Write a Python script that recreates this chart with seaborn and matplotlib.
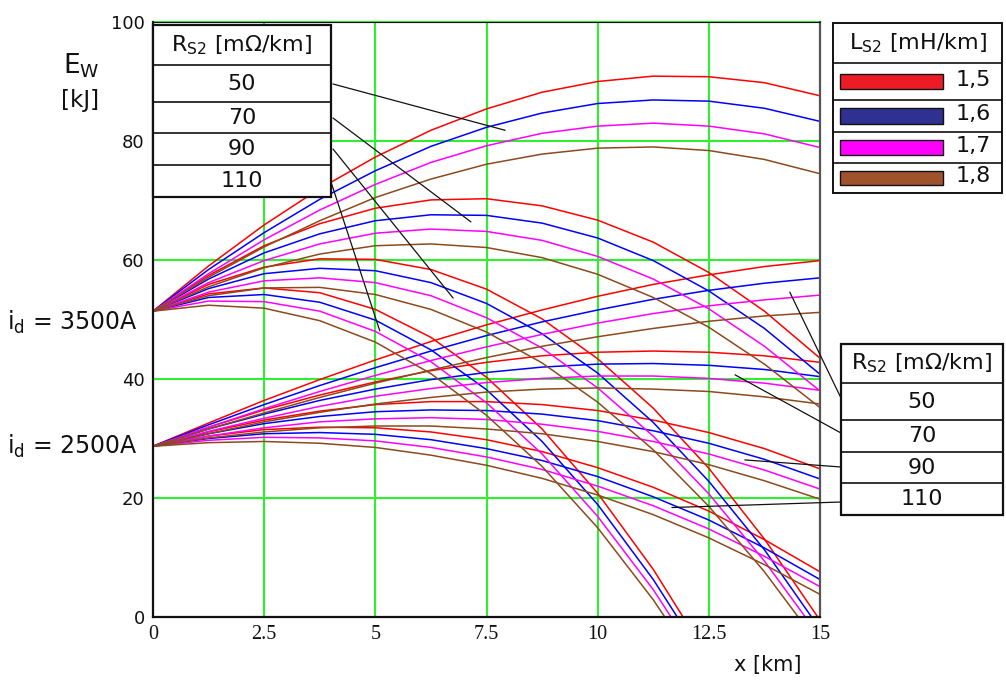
import matplotlib
matplotlib.use("Agg")
import matplotlib.pyplot as plt
import seaborn as sns
import pandas as pd
from matplotlib.patches import Rectangle
from matplotlib.lines import Line2D

# ---------------- data ----------------
x_km = [0, 1.25, 2.5, 3.75, 5, 6.25, 7.5, 8.75, 10, 11.25, 12.5, 13.75, 15]
L_labels = ["1,5", "1,6", "1,7", "1,8"]
R_labels = ["50", "70", "90", "110"]
x_ticks = [0, 2.5, 5, 7.5, 10, 12.5, 15]
x_tick_labels = ["0", "2.5", "5", "7.5", "10", "12.5", "15"]
y_ticks = [0, 20, 40, 60, 80, 100]

# i_d = 3500 A
E3500_R50 = [
    [51.4, 59.0, 65.9, 72.0, 77.3, 81.8, 85.4, 88.2, 90.0, 90.9, 90.8, 89.8, 87.6],
    [51.4, 58.4, 64.6, 70.2, 75.0, 79.1, 82.3, 84.7, 86.3, 86.9, 86.7, 85.5, 83.3],
    [51.4, 57.7, 63.4, 68.4, 72.7, 76.4, 79.2, 81.3, 82.5, 83.0, 82.5, 81.2, 78.9],
    [51.4, 57.1, 62.2, 66.6, 70.5, 73.6, 76.1, 77.8, 78.8, 79.0, 78.4, 76.9, 74.5],
]
E3500_R70 = [
    [51.4, 57.4, 62.4, 66.1, 68.7, 70.1, 70.3, 69.1, 66.7, 63.0, 57.9, 51.4, 43.5],
    [51.4, 56.8, 61.2, 64.4, 66.6, 67.6, 67.5, 66.2, 63.7, 59.9, 54.8, 48.5, 40.8],
    [51.4, 56.2, 59.9, 62.7, 64.5, 65.2, 64.8, 63.3, 60.6, 56.8, 51.8, 45.5, 38.0],
    [51.4, 55.5, 58.7, 61.0, 62.4, 62.7, 62.1, 60.4, 57.6, 53.7, 48.7, 42.5, 35.2],
]
E3500_R90 = [
    [51.4, 55.9, 58.8, 60.2, 60.1, 58.4, 55.1, 50.1, 43.4, 35.1, 25.0, 13.1],
    [51.4, 55.2, 57.7, 58.6, 58.2, 56.2, 52.7, 47.6, 41.0, 32.7, 22.8, 11.3],
    [51.4, 54.6, 56.5, 57.0, 56.2, 54.0, 50.3, 45.2, 38.5, 30.4, 20.7, 9.4],
    [51.4, 54.0, 55.3, 55.4, 54.2, 51.7, 47.9, 42.7, 36.1, 28.1, 18.6, 7.6],
]
x0_3500_R90 = [14.95, 14.81, 14.67, 14.51]
E3500_R110 = [
    [51.4, 54.3, 55.3, 54.5, 51.7, 47.0, 40.3, 31.6, 20.8, 8.0],
    [51.4, 53.7, 54.2, 52.9, 49.9, 44.9, 38.2, 29.5, 18.9, 6.3],
    [51.4, 53.1, 53.0, 51.4, 48.0, 42.9, 36.0, 27.4, 16.9, 4.6],
    [51.4, 52.4, 51.9, 49.8, 46.2, 40.9, 33.9, 25.3, 15.0, 2.9],
]
x0_3500_R110 = [11.92, 11.79, 11.65, 11.51]

# i_d = 2500 A
E2500_R50 = [
    [28.7, 32.6, 36.4, 39.9, 43.2, 46.3, 49.1, 51.6, 53.9, 55.9, 57.5, 58.9, 59.9],
    [28.7, 32.3, 35.7, 38.9, 41.9, 44.7, 47.3, 49.6, 51.6, 53.4, 54.9, 56.1, 57.0],
    [28.7, 31.9, 35.0, 37.9, 40.6, 43.1, 45.4, 47.5, 49.4, 51.0, 52.3, 53.3, 54.1],
    [28.7, 31.6, 34.3, 36.9, 39.3, 41.5, 43.6, 45.5, 47.1, 48.5, 49.7, 50.6, 51.2],
]
E2500_R70 = [
    [28.7, 31.9, 34.8, 37.3, 39.5, 41.4, 42.8, 43.9, 44.5, 44.7, 44.5, 43.9, 42.8],
    [28.7, 31.6, 34.1, 36.4, 38.3, 39.9, 41.1, 42.0, 42.5, 42.6, 42.3, 41.6, 40.4],
    [28.7, 31.2, 33.4, 35.4, 37.1, 38.4, 39.4, 40.1, 40.5, 40.5, 40.1, 39.3, 38.1],
    [28.7, 30.8, 32.8, 34.4, 35.8, 36.9, 37.8, 38.3, 38.5, 38.3, 37.9, 37.0, 35.8],
]
E2500_R90 = [
    [28.7, 31.1, 33.1, 34.6, 35.7, 36.2, 36.2, 35.7, 34.7, 33.1, 31.0, 28.3, 24.9],
    [28.7, 30.8, 32.5, 33.7, 34.5, 34.8, 34.7, 34.1, 33.0, 31.3, 29.2, 26.5, 23.2],
    [28.7, 30.4, 31.8, 32.8, 33.3, 33.5, 33.2, 32.4, 31.2, 29.5, 27.4, 24.7, 21.5],
    [28.7, 30.1, 31.1, 31.8, 32.1, 32.1, 31.6, 30.8, 29.5, 27.8, 25.6, 22.9, 19.8],
]
E2500_R110 = [
    [28.7, 30.4, 31.5, 31.9, 31.8, 31.1, 29.8, 27.8, 25.1, 21.8, 17.8, 13.0, 7.6],
    [28.7, 30.0, 30.8, 31.0, 30.7, 29.8, 28.3, 26.3, 23.6, 20.2, 16.3, 11.6, 6.3],
    [28.7, 29.7, 30.2, 30.1, 29.6, 28.5, 26.9, 24.8, 22.0, 18.7, 14.8, 10.2, 5.1],
    [28.7, 29.3, 29.5, 29.2, 28.5, 27.2, 25.5, 23.3, 20.5, 17.2, 13.3, 8.8, 3.8],
]

# ---------------- styles ----------------
line_colors = ["#ff0000", "#0000ff", "#ff00ff", "#8c4a1e"]
swatch_colors = ["#ed1c24", "#2e3192", "#ff00ff", "#a0522d"]
grid_green = "#2ef02e"
W, H = 1006, 680

groups = [
    ("3500", "50", E3500_R50, None), ("3500", "70", E3500_R70, None),
    ("3500", "90", E3500_R90, x0_3500_R90), ("3500", "110", E3500_R110, x0_3500_R110),
    ("2500", "50", E2500_R50, None), ("2500", "70", E2500_R70, None),
    ("2500", "90", E2500_R90, None), ("2500", "110", E2500_R110, None),
]
rows = []
for cur, R, curves, xz in groups:
    for k, vals in enumerate(curves):
        xs = list(x_km[:len(vals)])
        ys = list(vals)
        if xz is not None:
            xs.append(xz[k])
            ys.append(0.0)
        for xv, yv in zip(xs, ys):
            rows.append({"x": xv, "E": yv, "L": L_labels[k], "curve": f"{cur}-{R}-{k}"})
df = pd.DataFrame(rows)

sns.set_style("white")
plt.rcParams["font.family"] = ["DejaVu Sans"]
plt.rcParams["text.color"] = "#111111"

fig = plt.figure(figsize=(W / 100, H / 100), dpi=100)
fig.patch.set_facecolor("white")


def fx(px):
    return px / W


def fy(py):
    return 1 - py / H


ax = fig.add_axes([fx(153), fy(617), (820 - 153) / W, (617 - 22) / H])
ax.set_xlim(0, 15)
ax.set_ylim(0, 100)
ax.set_axisbelow(True)
for gx in x_ticks[1:-1]:
    ax.axvline(gx, color=grid_green, lw=1.5, zorder=0.5)
for gy in y_ticks[1:]:
    ax.axhline(gy, color=grid_green, lw=1.5, zorder=0.5, clip_on=False)

sns.lineplot(data=df, x="x", y="E", hue="L", units="curve", estimator=None,
             palette=dict(zip(L_labels, line_colors)), legend=False, sort=False,
             linewidth=1.1, ax=ax)

ax.set_xticks(x_ticks)
ax.set_xticklabels(x_tick_labels, family="Liberation Serif", fontsize=14.5, color="#111111")
ax.set_yticks(y_ticks)
ax.set_yticklabels([str(v) for v in y_ticks], fontsize=13, color="#111111")
ax.tick_params(length=0, pad=6)
ax.set_xlabel("")
ax.set_ylabel("")
for s in ["left", "bottom"]:
    ax.spines[s].set_color("#111111")
    ax.spines[s].set_linewidth(1.6)
ax.spines["right"].set_color("#555555")
ax.spines["right"].set_linewidth(1.6)
ax.spines["top"].set_color("#111111")
ax.spines["top"].set_linewidth(0.8)

# axis titles
fig.text(fx(63), fy(66), r"E$_\mathregular{W}$", fontsize=19, ha="left", va="center")
fig.text(fx(61), fy(101), "[kJ]", fontsize=16.5, ha="left", va="center")
fig.text(fx(734), fy(665), "x [km]", fontsize=15, ha="left", va="center")
fig.text(fx(7), fy(322), r"i$_\mathregular{d}$ = 3500A", fontsize=17, ha="left", va="center")
fig.text(fx(7), fy(446), r"i$_\mathregular{d}$ = 2500A", fontsize=17, ha="left", va="center")


def table(x0, x1, y_lines, header, labels, lw_box=1.6):
    top, bottom = y_lines[0], y_lines[-1]
    fig.add_artist(Rectangle((fx(x0), fy(bottom)), fx(x1) - fx(x0), fy(top) - fy(bottom),
                             transform=fig.transFigure, facecolor="white",
                             edgecolor="#111111", lw=lw_box, zorder=5))
    for yl in y_lines[1:-1]:
        fig.add_artist(Line2D([fx(x0), fx(x1)], [fy(yl), fy(yl)], transform=fig.transFigure,
                              color="#111111", lw=1.2, zorder=6))
    fig.text(fx((x0 + x1) / 2), fy((y_lines[0] + y_lines[1]) / 2), header,
             fontsize=16, ha="center", va="center", zorder=7)
    for i, lab in enumerate(labels):
        fig.text(fx((x0 + x1) / 2), fy((y_lines[i + 1] + y_lines[i + 2]) / 2), lab,
                 fontsize=16, ha="center", va="center", zorder=7)


rs_header = r"R$_\mathregular{S2}$ [mΩ/km]"
table(153, 331, [25, 65, 102, 133, 165, 197], rs_header, R_labels)
table(841, 1003, [344, 383, 420, 452, 483, 515], rs_header, R_labels)

# L legend with colour swatches
lx0, lx1 = 833, 1002
l_lines = [23, 63, 100, 132, 163, 193]
fig.add_artist(Rectangle((fx(lx0), fy(l_lines[-1])), fx(lx1) - fx(lx0), fy(l_lines[0]) - fy(l_lines[-1]),
                         transform=fig.transFigure, facecolor="white", edgecolor="#111111", lw=1.4, zorder=5))
for yl in l_lines[1:-1]:
    fig.add_artist(Line2D([fx(lx0), fx(lx1)], [fy(yl), fy(yl)], transform=fig.transFigure,
                          color="#111111", lw=1.2, zorder=6))
fig.text(fx((lx0 + lx1) / 2), fy(43), r"L$_\mathregular{S2}$ [mH/km]", fontsize=16,
         ha="center", va="center", zorder=7)
for i, (lab, col) in enumerate(zip(L_labels, swatch_colors)):
    yc = (l_lines[i + 1] + l_lines[i + 2]) / 2
    fig.add_artist(Rectangle((fx(840), fy(yc + 7.5)), fx(943) - fx(840), fy(yc - 7.5) - fy(yc + 7.5),
                             transform=fig.transFigure, facecolor=col, edgecolor="#111111",
                             lw=1.0, zorder=6))
    fig.text(fx(973), fy(yc - 2), lab, fontsize=16, ha="center", va="center", zorder=7)

# pointer lines from tables to the curve families
pointers = [
    ((7.92, 81.8), (333, 84)), ((7.15, 66.4), (333, 118)),
    ((6.75, 53.6), (333, 149)), ((5.1, 48.1), (331, 182)),
    ((14.32, 54.6), (841, 398)), ((13.09, 40.7), (841, 433)),
    ((13.31, 26.4), (841, 467)), ((11.67, 18.4), (841, 502)),
]
for (xd, yd), (px, py) in pointers:
    ax.annotate("", xy=(xd, yd), xycoords="data", xytext=(fx(px), fy(py)),
                textcoords="figure fraction",
                arrowprops=dict(arrowstyle="-", color="#111111", lw=0.9,
                                shrinkA=0, shrinkB=0), zorder=4)

fig.savefig("out.png", dpi=100, facecolor="white")
